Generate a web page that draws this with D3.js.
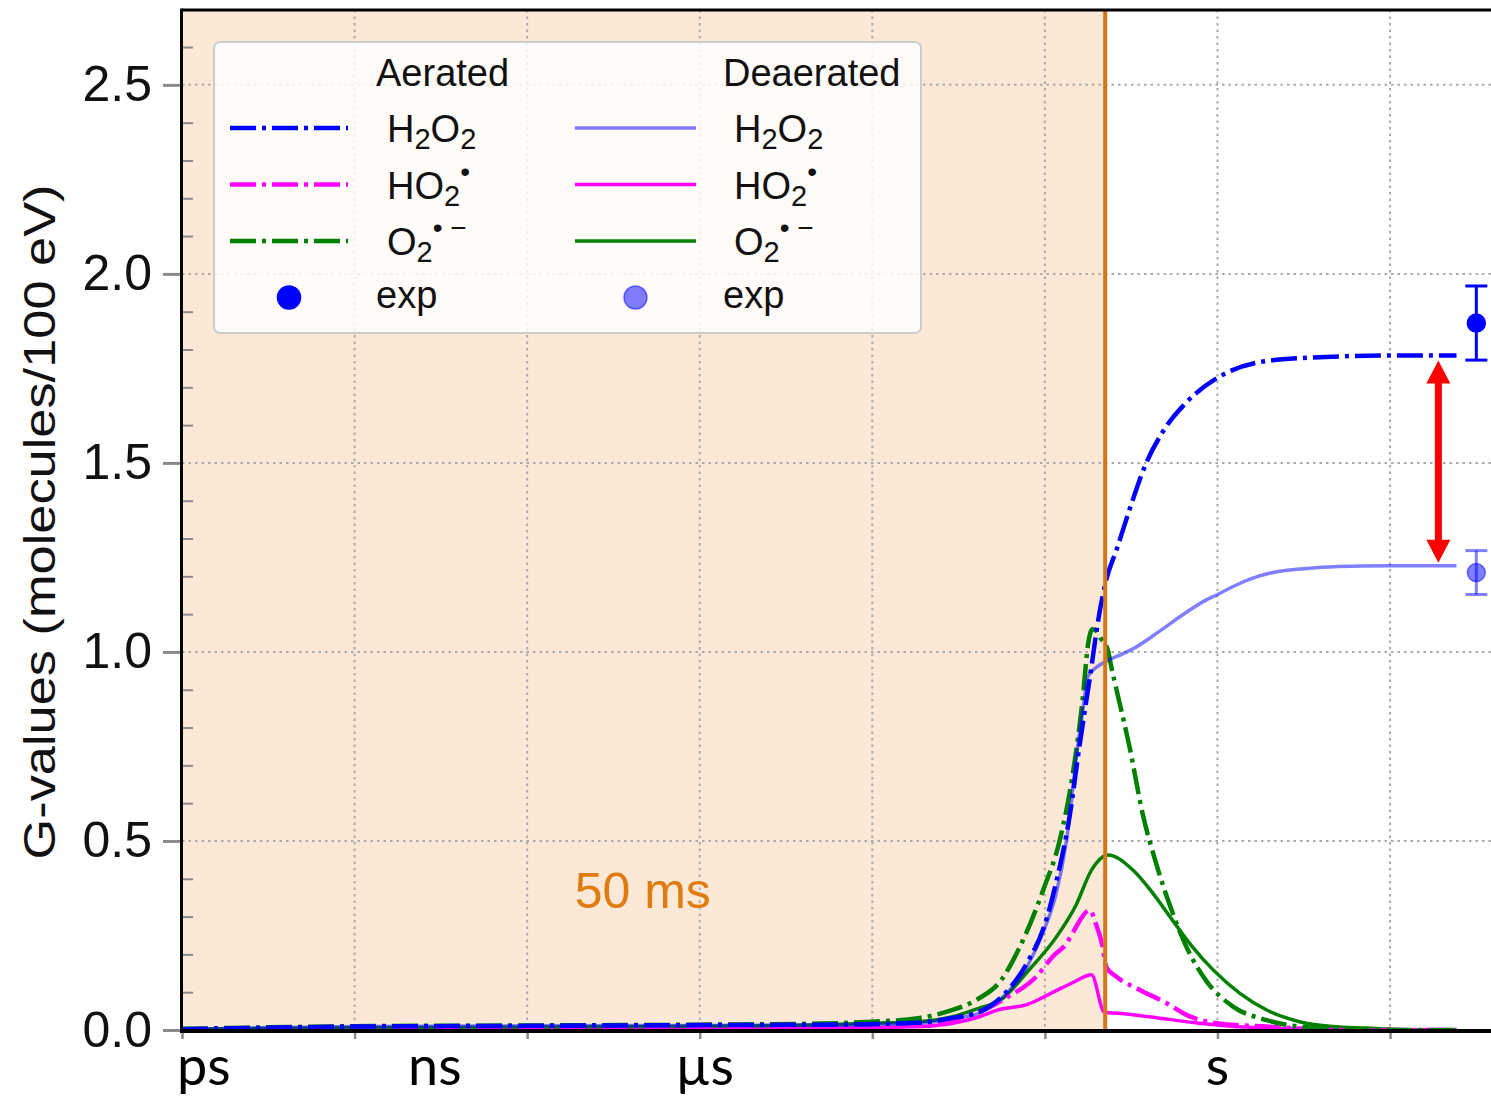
<!DOCTYPE html>
<html>
<head>
<meta charset="utf-8">
<script src="https://cdn.jsdelivr.net/npm/d3@7"></script>
<style>
  body { margin: 0; background: #fff; }
  text { font-family: "Liberation Sans", Arial, sans-serif; }
</style>
</head>
<body>
<div class="chart"></div>
<script>
var W = 1491, H = 1097;
var margin = { top: 10, right: 0, bottom: 67, left: 182 };

// every series: [log10(time in s), G-value (molecules/100 eV)]
const aeratedH2O2 = [[-12,0.002],[-11,0.006],[-10,0.009],[-8,0.011],[-6,0.013],[-4.6,0.014],[-3.5,0.019],[-3.07,0.032],[-2.76,0.048],[-2.45,0.10],[-2.2,0.18],[-2.0,0.28],[-1.87,0.39],[-1.71,0.57],[-1.6,0.75],[-1.48,0.93],[-1.37,1.10],[-1.29,1.19],[-1.17,1.27],[-1.02,1.376],[-0.825,1.50],[-0.64,1.58],[-0.36,1.66],[0,1.725],[0.45,1.765],[1.03,1.778],[2,1.784],[2.77,1.784]];
const aeratedHO2 = [[-12,0.0],[-10,0.002],[-8,0.003],[-6,0.004],[-4.6,0.006],[-4,0.009],[-3.45,0.016],[-3.07,0.028],[-2.76,0.048],[-2.45,0.085],[-2.1,0.141],[-1.91,0.194],[-1.75,0.229],[-1.68,0.256],[-1.48,0.317],[-1.405,0.278],[-1.33,0.22],[-1.29,0.167],[-1.17,0.141],[-0.9,0.106],[-0.59,0.071],[-0.36,0.04],[-0.02,0.018],[0.57,0.009],[0.95,0.004],[1.5,0.0],[2.77,0.0]];
const aeratedO2 = [[-12,0.003],[-10,0.01],[-8,0.012],[-6,0.014],[-4.6,0.017],[-4,0.022],[-3.45,0.032],[-3.07,0.053],[-2.76,0.084],[-2.52,0.128],[-2.29,0.22],[-2.02,0.37],[-1.83,0.50],[-1.675,0.68],[-1.56,0.88],[-1.5,1.02],[-1.45,1.06],[-1.4,1.055],[-1.35,1.035],[-1.27,1.005],[-1.23,0.96],[-1.17,0.90],[-1.02,0.75],[-0.865,0.57],[-0.71,0.44],[-0.52,0.31],[-0.36,0.22],[-0.13,0.13],[0.18,0.062],[0.57,0.026],[0.95,0.009],[1.33,0.004],[2.1,0.0],[2.77,0.0]];
const deaeratedH2O2 = [[-12,0.002],[-11,0.006],[-10,0.009],[-8,0.011],[-6,0.012],[-4.6,0.013],[-3.5,0.018],[-3.07,0.03],[-2.76,0.045],[-2.45,0.095],[-2.2,0.17],[-2.0,0.27],[-1.87,0.36],[-1.75,0.5],[-1.62,0.75],[-1.56,0.847],[-1.5,0.935],[-1.4,0.96],[-1.29,0.975],[-1.1,0.995],[-0.98,1.008],[-0.67,1.055],[-0.36,1.105],[-0.15,1.135],[0,1.152],[0.2,1.175],[0.37,1.192],[0.6,1.208],[0.83,1.217],[1.1,1.222],[1.4,1.226],[2,1.228],[2.77,1.228]];
const deaeratedHO2 = [[-12,0.0],[-8,0.002],[-6,0.003],[-4.6,0.005],[-4,0.006],[-3.45,0.009],[-3.07,0.018],[-2.76,0.035],[-2.56,0.052],[-2.2,0.068],[-1.88,0.103],[-1.68,0.125],[-1.46,0.146],[-1.31,0.047],[-1.14,0.044],[-0.79,0.035],[-0.21,0.018],[0.37,0.007],[0.95,0.003],[1.5,0.0],[2.77,0.0]];
const deaeratedO2 = [[-12,0.002],[-10,0.006],[-8,0.008],[-6,0.01],[-4.6,0.014],[-4,0.018],[-3.45,0.022],[-3.07,0.035],[-2.76,0.058],[-2.52,0.078],[-2.18,0.16],[-1.87,0.245],[-1.64,0.33],[-1.46,0.423],[-1.27,0.463],[-0.98,0.423],[-0.75,0.362],[-0.52,0.29],[-0.29,0.22],[-0.05,0.159],[0.26,0.097],[0.57,0.053],[0.95,0.022],[1.33,0.009],[1.72,0.005],[2.34,0.0],[2.77,0.0]];

// experimental points (aerated, deaerated)
const expTime = [1000, 1000];
const expG = [1.87, 1.21];
const expErr = [0.098, 0.058];

const yTicks = [0, 0.5, 1.0, 1.5, 2.0, 2.5];
const xGridExp = [-12, -10, -8, -6, -4, -2, 0, 2];
const xLabels = [[1e-12, "ps"], [1e-9, "ns"], [1e-6, "\u00b5s"], [1, "s"]];
const cutTime = 0.05;       // 50 ms
const arrowTime = 363;

var x = d3.scaleLog().domain([1e-12, Math.pow(10, 3.17)]).range([margin.left, W]);
var y = d3.scaleLinear().domain([0, 2.698]).range([H - margin.bottom, margin.top]);

var svg = d3.select(".chart").append("svg")
  .attr("width", W).attr("height", H);
svg.append("rect").attr("width", W).attr("height", H).attr("fill", "#fff");

var y0 = y(0), yTop = y.range()[1];

// shaded region up to 50 ms
svg.append("rect")
  .attr("x", x(1e-12)).attr("y", yTop)
  .attr("width", x(cutTime) - x(1e-12)).attr("height", y0 - yTop)
  .attr("fill", "#fbe8d6");

// grid
var grid = svg.append("g").attr("stroke", "#aaaaaa").attr("stroke-width", 2)
  .attr("stroke-dasharray", "2.5,4");
grid.selectAll(".vg").data(xGridExp.slice(1)).enter().append("line")
  .attr("x1", d => x(Math.pow(10, d))).attr("x2", d => x(Math.pow(10, d)))
  .attr("y1", yTop).attr("y2", y0);
grid.selectAll(".hg").data(yTicks.slice(1)).enter().append("line")
  .attr("x1", x(1e-12)).attr("x2", W)
  .attr("y1", d => y(d)).attr("y2", d => y(d));

// clip for curves
svg.append("clipPath").attr("id", "plotclip").append("rect")
  .attr("x", x(1e-12)).attr("y", yTop).attr("width", W - x(1e-12)).attr("height", y0 - yTop);

var line = d3.line()
  .x(d => x(Math.pow(10, d[0])))
  .y(d => y(d[1]))
  .curve(d3.curveMonotoneX);

var dashDot = "26,6,4,6";
var series = [
  { data: deaeratedHO2, color: "#ff00ff", op: 1, w: 3.5, dash: null },
  { data: deaeratedO2, color: "#008000", op: 1, w: 3.5, dash: null },
  { data: aeratedHO2, color: "#ff00ff", op: 1, w: 4.5, dash: dashDot },
  { data: aeratedO2, color: "#008000", op: 1, w: 4.5, dash: dashDot },
  { data: aeratedH2O2, color: "#0000ff", op: 1, w: 4.5, dash: dashDot },
  { data: deaeratedH2O2, color: "#0000ff", op: 0.5, w: 3.5, dash: null }
];

var curves = svg.append("g").attr("clip-path", "url(#plotclip)");
curves.selectAll("path").data(series).enter().append("path")
  .attr("d", d => line(d.data))
  .attr("fill", "none")
  .attr("stroke", d => d.color)
  .attr("stroke-opacity", d => d.op)
  .attr("stroke-width", d => d.w)
  .attr("stroke-dasharray", d => d.dash);

// 50 ms line
svg.append("line")
  .attr("x1", x(cutTime)).attr("x2", x(cutTime))
  .attr("y1", yTop).attr("y2", y0)
  .attr("stroke", "#d4761a").attr("stroke-width", 4);

svg.append("text")
  .attr("x", x(Math.pow(10, -6.66))).attr("y", 908)
  .attr("text-anchor", "middle")
  .attr("font-size", 50)
  .attr("fill", "#e07b10")
  .text("50 ms");

// experimental points with error bars
var expOp = [1, 0.5];
expG.forEach(function (g, i) {
  var cx = x(expTime[i]);
  var eg = svg.append("g").attr("stroke", "#0000ff").attr("stroke-opacity", expOp[i]).attr("stroke-width", 3);
  eg.append("line").attr("x1", cx).attr("x2", cx).attr("y1", y(g - expErr[i])).attr("y2", y(g + expErr[i]));
  eg.append("line").attr("x1", cx - 11).attr("x2", cx + 11).attr("y1", y(g - expErr[i])).attr("y2", y(g - expErr[i]));
  eg.append("line").attr("x1", cx - 11).attr("x2", cx + 11).attr("y1", y(g + expErr[i])).attr("y2", y(g + expErr[i]));
  svg.append("circle").attr("cx", cx).attr("cy", y(g)).attr("r", 9)
    .attr("fill", "#0000ff").attr("fill-opacity", expOp[i])
    .attr("stroke", "#0000ff").attr("stroke-opacity", expOp[i]).attr("stroke-width", 1.5);
});

// red double arrow between the two H2O2 plateaus
(function () {
  var ax = x(arrowTime);
  var top = y(aeratedH2O2[aeratedH2O2.length - 1][1]) + 5;
  var bot = y(deaeratedH2O2[deaeratedH2O2.length - 1][1]) - 3;
  var hl = 23, hw = 12, sw = 3.5;
  var p = [[ax, top], [ax + hw, top + hl], [ax + sw, top + hl], [ax + sw, bot - hl], [ax + hw, bot - hl],
    [ax, bot], [ax - hw, bot - hl], [ax - sw, bot - hl], [ax - sw, top + hl], [ax - hw, top + hl]];
  svg.append("path").attr("d", "M" + p.join("L") + "Z").attr("fill", "#ff0000");
})();

// axes
var yAxis = d3.axisLeft(y).tickValues(yTicks).tickFormat(d3.format(".1f")).tickSize(19).tickPadding(11);
var gy = svg.append("g").attr("transform", "translate(" + x(1e-12) + ",0)").call(yAxis);
gy.select(".domain").remove();
gy.selectAll(".tick line").attr("stroke", "#8a8a8a").attr("stroke-width", 3);
gy.selectAll(".tick text").attr("font-size", 50).attr("fill", "#111")
  .attr("font-family", "'Liberation Sans', Arial, sans-serif");

var minor = d3.range(1, 27).map(d => d / 10).filter(d => Math.abs(d * 2 - Math.round(d * 2)) > 1e-6);
var gm = svg.append("g").attr("transform", "translate(" + (x(1e-12) + 1) + ",0)")
  .call(d3.axisRight(y).tickValues(minor).tickSize(10).tickFormat(""));
gm.select(".domain").remove();
gm.selectAll(".tick line").attr("stroke", "#8a8a8a").attr("stroke-width", 2);

var gx = svg.append("g").attr("transform", "translate(0," + y0 + ")")
  .call(d3.axisBottom(x).tickValues(xGridExp.map(d => Math.pow(10, d))).tickSize(9).tickFormat(""));
gx.select(".domain").remove();
gx.selectAll(".tick line").attr("stroke", "#8a8a8a").attr("stroke-width", 2.5);

// spines
svg.append("line").attr("x1", x(1e-12) - 1).attr("x2", W).attr("y1", y0 + 1).attr("y2", y0 + 1)
  .attr("stroke", "#000").attr("stroke-width", 4);
svg.append("line").attr("x1", x(1e-12)).attr("x2", W).attr("y1", yTop).attr("y2", yTop)
  .attr("stroke", "#000").attr("stroke-width", 3);
svg.append("line").attr("x1", x(1e-12) - 0.5).attr("x2", x(1e-12) - 0.5).attr("y1", yTop - 1.5).attr("y2", y0 + 3)
  .attr("stroke", "#000").attr("stroke-width", 3);

// x labels (time units)
var xLabelShift = [-5, -6, 5, 0];
svg.selectAll(".xlab").data(xLabels).enter().append("text")
  .attr("x", (d, i) => x(d[0]) + xLabelShift[i])
  .attr("y", 1085)
  .attr("text-anchor", (d, i) => i === 0 ? "start" : "middle")
  .attr("font-size", 54)
  .style("font-family", "Lato, 'Open Sans', sans-serif")
  .attr("fill", "#000")
  .text(d => d[1]);

// y label
svg.append("text")
  .attr("transform", "translate(55,522) rotate(-90)")
  .attr("text-anchor", "middle")
  .attr("font-size", 44)
  .attr("textLength", 675)
  .attr("lengthAdjust", "spacingAndGlyphs")
  .attr("fill", "#111")
  .text("G-values (molecules/100 eV)");

// legend
var lg = svg.append("g");
lg.append("rect").attr("x", 214).attr("y", 42).attr("width", 707).attr("height", 291)
  .attr("rx", 6).attr("fill", "#fff").attr("fill-opacity", 0.82)
  .attr("stroke", "#cccccc").attr("stroke-width", 2);

const legendNames = [
  [["H"], ["2", "sub"], ["O"], ["2", "sub"]],
  [["HO"], ["2", "sub"], ["\u2022", "sup"]],
  [["O"], ["2", "sub"], ["\u2022 \u2212", "sup"]],
  [["exp"]]
];
var rowY = [128, 184.5, 241, 297.5];
var cols = [
  { title: "Aerated", x0: 230, x1: 348, tx: 376, lab: 387, series: [aeratedH2O2, aeratedHO2, aeratedO2], op: 1, w: 4.5, dash: dashDot },
  { title: "Deaerated", x0: 575, x1: 696, tx: 723, lab: 734, series: [deaeratedH2O2, deaeratedHO2, deaeratedO2], op: 0.5, w: 3.5, dash: null }
];
var legColors = ["#0000ff", "#ff00ff", "#008000"];

function writeName(t, parts) {
  var cur = 0;
  parts.forEach(function (p) {
    var target = p[1] === "sub" ? 7 : p[1] === "sup" ? -18 : 0;
    t.append("tspan").attr("dy", target - cur)
      .attr("font-size", p[1] === "sub" ? 29 : p[1] === "sup" ? 28 : 38)
      .text(p[0]);
    cur = target;
  });
}

cols.forEach(function (c, ci) {
  lg.append("text").attr("x", c.tx).attr("y", 86).attr("font-size", 38).attr("fill", "#111").text(c.title);
  c.series.forEach(function (s, i) {
    var op = (ci === 1 && i > 0) ? 1 : c.op;
    lg.append("line").attr("x1", c.x0).attr("x2", c.x1).attr("y1", rowY[i]).attr("y2", rowY[i])
      .attr("stroke", legColors[i]).attr("stroke-opacity", op)
      .attr("stroke-width", c.w).attr("stroke-dasharray", c.dash);
    var t = lg.append("text").attr("x", c.lab).attr("y", rowY[i] + 14).attr("font-size", 38).attr("fill", "#111");
    writeName(t, legendNames[i]);
  });
  lg.append("circle").attr("cx", (c.x0 + c.x1) / 2).attr("cy", rowY[3]).attr("r", 11.5)
    .attr("fill", "#0000ff").attr("fill-opacity", c.op)
    .attr("stroke", "#0000ff").attr("stroke-opacity", c.op).attr("stroke-width", 1.5);
  lg.append("text").attr("x", c.tx).attr("y", rowY[3] + 10).attr("font-size", 38).attr("fill", "#111").text("exp");
});
</script>
</body>
</html>
